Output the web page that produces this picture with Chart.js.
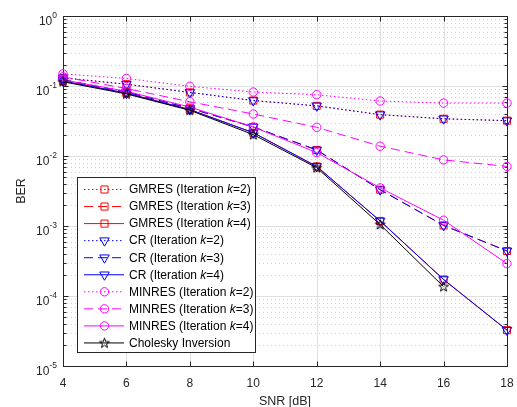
<!DOCTYPE html>
<html>
<head>
<meta charset="utf-8">
<script src="https://cdn.jsdelivr.net/npm/chart.js@4/dist/chart.umd.min.js"></script>
<style>
  html, body { margin: 0; padding: 0; background: #fff; }
</style>
</head>
<body>
<canvas id="berChart" width="517" height="407"></canvas>
<script>
// SNR points (dB)
const snr = [4, 6, 8, 10, 12, 14, 16, 18];
const xTicks = [4, 6, 8, 10, 12, 14, 16, 18];
const yExponents = [0, -1, -2, -3, -4, -5];

// BER
const gmresK2 = [0.131, 0.106, 0.081, 0.062, 0.052, 0.039, 0.034, 0.032];
const gmresK3 = [0.123, 0.082, 0.048, 0.026, 0.0122, 0.0033, 0.00102, 0.00044];
const gmresK4 = [0.118, 0.079, 0.046, 0.0215, 0.0071, 0.00118, 0.000172, 0.0000325];
const crK2 = [0.131, 0.106, 0.081, 0.062, 0.052, 0.039, 0.034, 0.032];
const crK3 = [0.123, 0.082, 0.048, 0.026, 0.0122, 0.0033, 0.00102, 0.00044];
const crK4 = [0.118, 0.079, 0.046, 0.0215, 0.0071, 0.00118, 0.000172, 0.0000325];
const minresK2 = [0.149, 0.128, 0.099, 0.082, 0.075, 0.061, 0.057, 0.057];
const minresK3 = [0.135, 0.092, 0.0595, 0.0398, 0.0257, 0.0138, 0.0088, 0.0071];
const minresK4 = [0.122, 0.084, 0.05, 0.026, 0.0112, 0.0035, 0.00121, 0.00029];
const cholesky = [0.115, 0.077, 0.045, 0.0202, 0.0068, 0.00105, 0.000136, null];

const FONT = '"Liberation Sans", Arial, Helvetica, sans-serif';
const AXIS_COLOR = '#262626';
const DOT = [1.5, 2.5];
const DASH = [9, 5];

function makeStar(color) {
    const c = document.createElement('canvas');
    c.width = 13; c.height = 13;
    const g = c.getContext('2d');
    const R = 5.2, r = 2.1;
    g.beginPath();
    for (let i = 0; i < 10; i++) {
        const a = -Math.PI / 2 + i * Math.PI / 5;
        const rad = i % 2 ? r : R;
        const px = 6.5 + Math.cos(a) * rad, py = 6.8 + Math.sin(a) * rad;
        if (i === 0) g.moveTo(px, py); else g.lineTo(px, py);
    }
    g.closePath();
    g.strokeStyle = color;
    g.lineWidth = 1;
    g.stroke();
    return c;
}
const starImg = makeStar('#000000');

function pts(arr) {
    return snr.map((x, i) => ({ x: x, y: arr[i] }));
}

const series = [
    { name: 'GMRES', k: 2, data: gmresK2, color: '#ff0000', dash: DOT, marker: 'rect' },
    { name: 'GMRES', k: 3, data: gmresK3, color: '#ff0000', dash: DASH, marker: 'rect' },
    { name: 'GMRES', k: 4, data: gmresK4, color: '#ff0000', dash: [], marker: 'rect' },
    { name: 'CR', k: 2, data: crK2, color: '#0000ff', dash: DOT, marker: 'tri' },
    { name: 'CR', k: 3, data: crK3, color: '#0000ff', dash: DASH, marker: 'tri' },
    { name: 'CR', k: 4, data: crK4, color: '#0000ff', dash: [], marker: 'tri' },
    { name: 'MINRES', k: 2, data: minresK2, color: '#ff00ff', dash: DOT, marker: 'circle' },
    { name: 'MINRES', k: 3, data: minresK3, color: '#ff00ff', dash: DASH, marker: 'circle' },
    { name: 'MINRES', k: 4, data: minresK4, color: '#ff00ff', dash: [], marker: 'circle' },
    { name: 'Cholesky Inversion', k: null, data: cholesky, color: '#000000', dash: [], marker: 'star' }
];

const markerOpts = {
    rect: { pointStyle: 'rect', pointRadius: 5, pointRotation: 0 },
    tri: { pointStyle: 'triangle', pointRadius: 5.5, pointRotation: 180 },
    circle: { pointStyle: 'circle', pointRadius: 4.2, pointRotation: 0 },
    star: { pointStyle: starImg, pointRadius: 6, pointRotation: 0 }
};

const datasets = series.map((s, i) => Object.assign({
    label: s.k ? s.name + ' (Iteration k=' + s.k + ')' : s.name,
    data: pts(s.data),
    borderColor: s.color,
    borderWidth: 1,
    borderDash: s.dash,
    pointBorderColor: s.color,
    pointBackgroundColor: 'rgba(0,0,0,0)',
    pointBorderWidth: 1,
    pointHoverRadius: 5,
    fill: false,
    tension: 0,
    spanGaps: false,
    clip: false,
    order: series.length - i
}, markerOpts[s.marker]));

function drawMarker(ctx, kind, x, y, color) {
    ctx.save();
    ctx.strokeStyle = color;
    ctx.lineWidth = 1;
    ctx.setLineDash([]);
    ctx.beginPath();
    if (kind === 'rect') {
        const h = 5 * Math.SQRT1_2;
        ctx.rect(x - h, y - h, 2 * h, 2 * h);
        ctx.stroke();
    } else if (kind === 'tri') {
        const r = 5.5;
        ctx.moveTo(x, y + r);
        ctx.lineTo(x - r * 0.866, y - r / 2);
        ctx.lineTo(x + r * 0.866, y - r / 2);
        ctx.closePath();
        ctx.stroke();
    } else if (kind === 'circle') {
        ctx.arc(x, y, 4.2, 0, Math.PI * 2);
        ctx.stroke();
    } else if (kind === 'star') {
        ctx.drawImage(starImg, x - 6.5, y - 6.5);
    }
    ctx.restore();
}

const axesPlugin = {
    id: 'matlabAxes',
    beforeDatasetsDraw(chart) {
        const ctx = chart.ctx;
        const a = chart.chartArea;
        const xs = chart.scales.x, ys = chart.scales.y;
        ctx.save();
        // minor grid (dotted)
        ctx.strokeStyle = '#d2d2d2';
        ctx.lineWidth = 1;
        ctx.setLineDash([1, 3]);
        for (let e = -5; e < 0; e++) {
            for (let m = 2; m <= 9; m++) {
                const py = Math.round(ys.getPixelForValue(m * Math.pow(10, e))) + 0.5;
                ctx.beginPath();
                ctx.moveTo(a.left, py);
                ctx.lineTo(a.right, py);
                ctx.stroke();
            }
        }
        // major grid
        ctx.setLineDash([]);
        ctx.strokeStyle = '#e0e0e0';
        yExponents.forEach(e => {
            const py = Math.round(ys.getPixelForValue(Math.pow(10, e))) + 0.5;
            ctx.beginPath();
            ctx.moveTo(a.left, py);
            ctx.lineTo(a.right, py);
            ctx.stroke();
        });
        xTicks.forEach(t => {
            const px = Math.round(xs.getPixelForValue(t)) + 0.5;
            ctx.beginPath();
            ctx.moveTo(px, a.top);
            ctx.lineTo(px, a.bottom);
            ctx.stroke();
        });
        // box
        ctx.strokeStyle = AXIS_COLOR;
        ctx.lineWidth = 1;
        const L = Math.round(a.left) + 0.5, R = Math.round(a.right) + 0.5;
        const T = Math.round(a.top) + 0.5, B = Math.round(a.bottom) + 0.5;
        ctx.strokeRect(L, T, R - L, B - T);
        // ticks
        ctx.beginPath();
        xTicks.forEach(t => {
            const px = Math.round(xs.getPixelForValue(t)) + 0.5;
            ctx.moveTo(px, B); ctx.lineTo(px, B - 5);
            ctx.moveTo(px, T); ctx.lineTo(px, T + 5);
        });
        yExponents.forEach(e => {
            const py = Math.round(ys.getPixelForValue(Math.pow(10, e))) + 0.5;
            ctx.moveTo(L, py); ctx.lineTo(L + 5, py);
            ctx.moveTo(R, py); ctx.lineTo(R - 5, py);
        });
        for (let e = -5; e < 0; e++) {
            for (let m = 2; m <= 9; m++) {
                const py = Math.round(ys.getPixelForValue(m * Math.pow(10, e))) + 0.5;
                ctx.moveTo(L, py); ctx.lineTo(L + 3, py);
                ctx.moveTo(R, py); ctx.lineTo(R - 3, py);
            }
        }
        ctx.stroke();
        // tick labels
        ctx.fillStyle = AXIS_COLOR;
        ctx.font = '12px ' + FONT;
        ctx.textAlign = 'center';
        ctx.textBaseline = 'alphabetic';
        xTicks.forEach(t => {
            ctx.fillText(String(t), xs.getPixelForValue(t), a.bottom + 21);
        });
        yExponents.forEach(e => {
            const py = ys.getPixelForValue(Math.pow(10, e));
            const exp = e === 0 ? '0' : '-' + Math.abs(e);
            ctx.font = '8.5px ' + FONT;
            const ew = ctx.measureText(exp).width;
            ctx.textAlign = 'right';
            ctx.fillText(exp, a.left - 6, py + 1.5);
            ctx.font = '12px ' + FONT;
            ctx.fillText('10', a.left - 6 - ew, py + 9);
        });
        // axis titles
        ctx.font = '12.5px ' + FONT;
        ctx.textAlign = 'center';
        ctx.fillText('SNR [dB]', (a.left + a.right) / 2, a.bottom + 39);
        ctx.save();
        ctx.translate(25, (a.top + a.bottom) / 2);
        ctx.rotate(-Math.PI / 2);
        ctx.fillText('BER', 0, 0);
        ctx.restore();
        ctx.restore();
    },
    afterDraw(chart) {
        const ctx = chart.ctx;
        const bx = 77.5, by = 177.5, bw = 178, bh = 175;
        ctx.save();
        ctx.fillStyle = '#ffffff';
        ctx.fillRect(bx, by, bw, bh);
        ctx.strokeStyle = AXIS_COLOR;
        ctx.lineWidth = 1;
        ctx.strokeRect(bx, by, bw, bh);
        const step = 17.05;
        series.forEach((s, i) => {
            const y = 189.5 + i * step;
            ctx.strokeStyle = s.color;
            ctx.lineWidth = 1;
            ctx.setLineDash(s.dash);
            ctx.beginPath();
            ctx.moveTo(84, y);
            ctx.lineTo(124, y);
            ctx.stroke();
            ctx.setLineDash([]);
            drawMarker(ctx, s.marker, 104.5, y, s.color);
            ctx.fillStyle = '#000000';
            ctx.textAlign = 'left';
            ctx.textBaseline = 'middle';
            let tx = 129;
            if (s.k) {
                const parts = [[s.name + ' (Iteration ', 'normal'], ['k', 'italic'], ['=' + s.k + ')', 'normal']];
                parts.forEach(p => {
                    ctx.font = p[1] + ' 12px ' + FONT;
                    ctx.fillText(p[0], tx, y + 0.5);
                    tx += ctx.measureText(p[0]).width;
                });
            } else {
                ctx.font = '12px ' + FONT;
                ctx.fillText(s.name, tx, y + 0.5);
            }
        });
        ctx.restore();
    }
};

const config = {
    type: 'line',
    data: { datasets: datasets },
    options: {
        responsive: false,
        animation: false,
        events: [],
        layout: { padding: { left: 63, right: 10, top: 16, bottom: 41 } },
        scales: {
            x: { type: 'linear', min: 4, max: 18, display: false },
            y: { type: 'logarithmic', min: 1e-5, max: 1, display: false }
        },
        plugins: {
            legend: { display: false },
            tooltip: { enabled: false },
            title: { display: false }
        }
    },
    plugins: [axesPlugin]
};

const berChart = new Chart(document.getElementById('berChart').getContext('2d'), config);
</script>
</body>
</html>
